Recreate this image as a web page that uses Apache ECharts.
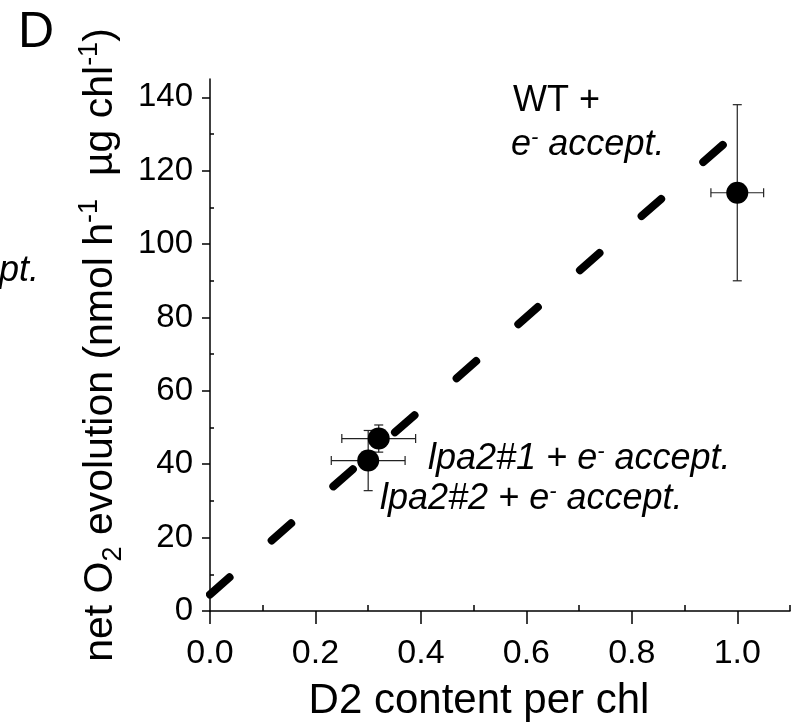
<!DOCTYPE html>
<html>
<head>
<meta charset="utf-8">
<script src="https://cdn.jsdelivr.net/npm/echarts@6/dist/echarts.min.js"></script>
<style>
  html, body { margin: 0; padding: 0; background: #fff; }
  #chart { width: 791px; height: 727px; }
</style>
</head>
<body>
<div id="chart"></div>
<script>
// Net O2 evolution versus D2 content (with electron acceptor)
const sampleNames = ['WT', 'lpa2#1', 'lpa2#2'];
const d2Content = [1.0, 0.32, 0.30];
const d2Error = [0.05, 0.07, 0.07];
const o2Evolution = [114, 47, 41];
const o2Error = [24, 3.7, 8.2];

// Linear regression drawn as a dashed line
const fitX = [0, 1.0];
const fitY = [4.5, 130.5];

// Tick positions
const xMajorTicks = [0, 0.2, 0.4, 0.6, 0.8, 1.0];
const xMinorTicks = [0.1, 0.3, 0.5, 0.7, 0.9, 1.1];
const yMajorTicks = [0, 20, 40, 60, 80, 100, 120, 140];
const yMinorTicks = [10, 30, 50, 70, 90, 110, 130];

const FONT = '"Liberation Sans", Arial, Helvetica, sans-serif';

const points = d2Content.map((x, i) => [x, o2Evolution[i]]);
const errData = d2Content.map((x, i) => [x, o2Evolution[i], d2Error[i], o2Error[i]]);
const fitData = fitX.map((x, i) => [x, fitY[i]]);

const chart = echarts.init(document.getElementById('chart'), null, { renderer: 'canvas' });

const axisBase = {
  type: 'value',
  splitLine: { show: false },
  axisLine: { show: true, lineStyle: { color: '#000', width: 1.5 } }
};

const supRich = { sup: { font: 'italic 22px ' + FONT, fill: '#000', verticalAlign: 'top' } };

chart.setOption({
  animation: false,
  backgroundColor: '#fff',
  grid: { left: 210, right: 1, top: 79, bottom: 115.3 },
  xAxis: [
    Object.assign({}, axisBase, {
      min: 0, max: 1.1,
      name: 'D2 content per chl',
      nameLocation: 'middle',
      nameGap: 69,
      nameTextStyle: { fontFamily: FONT, fontSize: 42, color: '#000', padding: [0, 42, 0, 0] },
      axisTick: { show: true, length: 13, customValues: xMajorTicks, lineStyle: { color: '#000', width: 1.5 } },
      axisLabel: { customValues: xMajorTicks, fontFamily: FONT, fontSize: 34, color: '#000', margin: 26,
        formatter: v => v.toFixed(1) }
    }),
    Object.assign({}, axisBase, {
      min: 0, max: 1.1,
      axisLine: { show: false },
      axisTick: { show: true, length: 6, customValues: xMinorTicks, lineStyle: { color: '#000', width: 1.5 } },
      axisLabel: { show: false }
    })
  ],
  yAxis: [
    Object.assign({}, axisBase, {
      min: 0, max: 145,
      name: 'net O{sub|2} evolution (nmol h{sup|-1}  µg chl{sup|-1})',
      nameLocation: 'middle',
      nameGap: 77,
      nameTextStyle: {
        fontFamily: FONT, fontSize: 41, color: '#000',
        rich: {
          sub: { fontFamily: FONT, fontSize: 27, color: '#000', verticalAlign: 'bottom', padding: [0, 0, -6, 0] },
          sup: { fontFamily: FONT, fontSize: 27, color: '#000', verticalAlign: 'top', padding: [-4, 0, 0, 0] }
        }
      },
      axisTick: { show: true, length: 8, customValues: yMajorTicks, lineStyle: { color: '#000', width: 1.5 } },
      axisLabel: { customValues: yMajorTicks, fontFamily: FONT, fontSize: 33, color: '#000', margin: 17 }
    }),
    Object.assign({}, axisBase, {
      min: 0, max: 145,
      axisLine: { show: false },
      axisTick: { show: true, length: 4, customValues: yMinorTicks, lineStyle: { color: '#000', width: 1.5 } },
      axisLabel: { show: false }
    })
  ],
  series: [
    {
      name: 'fit',
      type: 'line',
      data: fitData,
      symbol: 'none',
      z: 2,
      lineStyle: { color: '#000', width: 8, type: [26, 56], dashOffset: 0, cap: 'round' }
    },
    {
      name: 'error',
      type: 'custom',
      z: 3,
      data: errData,
      renderItem: function (params, api) {
        const x = api.value(0), y = api.value(1), ex = api.value(2), ey = api.value(3);
        const c = api.coord([x, y]);
        const l = api.coord([x - ex, y]);
        const r = api.coord([x + ex, y]);
        const t = api.coord([x, y + ey]);
        const b = api.coord([x, y - ey]);
        const cap = 4.5;
        const style = { stroke: '#222', lineWidth: 1.2 };
        return {
          type: 'group',
          children: [
            { type: 'line', shape: { x1: l[0], y1: c[1], x2: r[0], y2: c[1] }, style },
            { type: 'line', shape: { x1: l[0], y1: c[1] - cap, x2: l[0], y2: c[1] + cap }, style },
            { type: 'line', shape: { x1: r[0], y1: c[1] - cap, x2: r[0], y2: c[1] + cap }, style },
            { type: 'line', shape: { x1: c[0], y1: t[1], x2: c[0], y2: b[1] }, style },
            { type: 'line', shape: { x1: c[0] - cap, y1: t[1], x2: c[0] + cap, y2: t[1] }, style },
            { type: 'line', shape: { x1: c[0] - cap, y1: b[1], x2: c[0] + cap, y2: b[1] }, style }
          ]
        };
      }
    },
    {
      name: 'samples',
      type: 'scatter',
      z: 4,
      data: points,
      symbol: 'circle',
      symbolSize: 22,
      itemStyle: { color: '#000', opacity: 1 }
    }
  ],
  graphic: [
    { type: 'text', left: 18, top: 8,
      style: { text: 'D', font: 'normal 50px ' + FONT, fill: '#000' } },
    { type: 'text', x: 39, y: 271,
      style: { text: 'accept.', font: 'italic 36px ' + FONT, fill: '#000', align: 'right', verticalAlign: 'middle' } },
    { type: 'text', x: 513, y: 101,
      style: { text: 'WT +', font: 'normal 36px ' + FONT, fill: '#000', verticalAlign: 'middle' } },
    { type: 'text', x: 511, y: 145,
      style: { text: 'e{sup|-} accept.', font: 'italic 36px ' + FONT, fill: '#000', verticalAlign: 'middle', rich: supRich } },
    { type: 'text', x: 428, y: 459,
      style: { text: 'lpa2#1 + e{sup|-} accept.', font: 'italic 36px ' + FONT, fill: '#000', verticalAlign: 'middle', rich: supRich } },
    { type: 'text', x: 380, y: 499,
      style: { text: 'lpa2#2 + e{sup|-} accept.', font: 'italic 36px ' + FONT, fill: '#000', verticalAlign: 'middle', rich: supRich } }
  ]
});
</script>
</body>
</html>
